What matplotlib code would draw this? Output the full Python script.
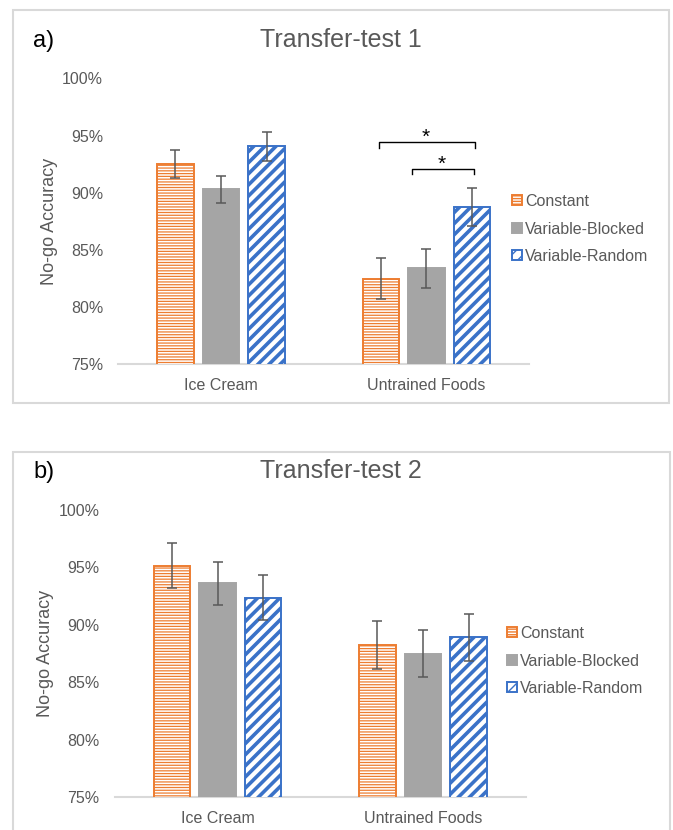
import numpy as np
import matplotlib
matplotlib.use("Agg")
import matplotlib.pyplot as plt
from matplotlib.patches import Rectangle
from matplotlib.ticker import FuncFormatter

plt.rcParams['font.family'] = ['Liberation Sans', 'DejaVu Sans']

categories = ["Ice Cream", "Untrained Foods"]
groups = ["Constant", "Variable-Blocked", "Variable-Random"]

# transfer-test 1 (percent)
t1_means = {
    "Constant": [92.5, 82.5],
    "Variable-Blocked": [90.3, 83.4],
    "Variable-Random": [94.05, 88.75],
}
t1_err = {
    "Constant": [1.25, 1.75],
    "Variable-Blocked": [1.2, 1.7],
    "Variable-Random": [1.25, 1.7],
}

# transfer-test 2 (percent)
t2_means = {
    "Constant": [95.15, 88.25],
    "Variable-Blocked": [93.6, 87.5],
    "Variable-Random": [92.35, 88.9],
}
t2_err = {
    "Constant": [1.97, 2.1],
    "Variable-Blocked": [1.9, 2.05],
    "Variable-Random": [1.95, 2.08],
}

ORANGE = "#ED7D31"
GRAY = "#A5A5A5"
BLUE = "#3A72C8"
TXT = "#595959"
FRAME = "#D9D9D9"

styles = {
    "Constant": dict(facecolor="white", edgecolor=ORANGE, hatch="------", hlw=0.9),
    "Variable-Blocked": dict(facecolor=GRAY, edgecolor=GRAY, hatch=None, hlw=1.0),
    "Variable-Random": dict(facecolor="white", edgecolor=BLUE, hatch="///", hlw=2.6),
}

W, H = 673, 830
fig = plt.figure(figsize=(W / 100, H / 100), dpi=100)


def px_axes(left, right, top, bottom):
    return fig.add_axes([left / W, 1 - bottom / H, (right - left) / W, (bottom - top) / H])


def draw_panel(ax, means, errs, title, letter, title_y, leg_y, leg_x):
    x = np.arange(len(categories))
    width = 0.178
    step = 0.222
    for i, g in enumerate(groups):
        st = styles[g]
        with plt.rc_context({'hatch.linewidth': st['hlw']}):
            bars = ax.bar(x + (i - 1) * step, means[g], width, bottom=0,
                          facecolor=st['facecolor'], edgecolor=st['edgecolor'],
                          hatch=st['hatch'], linewidth=1.4, label=g, zorder=2)
        for b in bars:
            if hasattr(b, "set_hatch_linewidth"):
                b.set_hatch_linewidth(st['hlw'])
        ax.errorbar(x + (i - 1) * step, means[g], yerr=errs[g], fmt="none",
                    ecolor=TXT, elinewidth=1.1, capsize=3.5, capthick=1.1, zorder=3)
    ax.set_ylim(75, 100)
    ax.set_xlim(-0.5, 1.5)
    ax.set_yticks([75, 80, 85, 90, 95, 100])
    ax.yaxis.set_major_formatter(FuncFormatter(lambda v, p: f"{v:.0f}%"))
    ax.set_xticks(x)
    ax.set_xticklabels(categories)
    ax.tick_params(length=0, labelsize=11.5, labelcolor=TXT)
    ax.tick_params(axis='y', pad=11)
    ax.tick_params(axis='x', pad=10)
    for s in ["top", "right", "left"]:
        ax.spines[s].set_visible(False)
    ax.spines["bottom"].set_color(FRAME)
    ax.spines["bottom"].set_linewidth(1.5)
    ax.spines["bottom"].set_zorder(1)
    ax.set_ylabel("No-go Accuracy", fontsize=13, color=TXT, labelpad=3)
    ax.set_facecolor("none")

    fig.text(341 / W, 1 - title_y / H, title, ha="center", va="center",
             fontsize=18, color=TXT)
    fig.text(33 / W, 1 - (title_y + 1) / H, letter, ha="left", va="center",
             fontsize=17, color="black")

    handles, labels = ax.get_legend_handles_labels()
    ax.legend(handles, labels, loc="center left",
              bbox_to_anchor=(leg_x / W, 1 - leg_y / H),
              bbox_transform=fig.transFigure, frameon=False,
              fontsize=11.5, labelcolor=TXT, handlelength=0.6, handleheight=0.6,
              handletextpad=0.2, labelspacing=0.78, borderpad=0, borderaxespad=0)


# panel frames
fig.patches.append(Rectangle((13 / W, 1 - 403 / H), 656 / W, 393 / H,
                             transform=fig.transFigure, fill=False,
                             edgecolor=FRAME, linewidth=1.5))
fig.patches.append(Rectangle((13 / W, 1 - 845 / H), 657 / W, 393 / H,
                             transform=fig.transFigure, fill=False,
                             edgecolor=FRAME, linewidth=1.5))

ax1 = px_axes(118.4, 529.0, 78.3, 364.3)
draw_panel(ax1, t1_means, t1_err, "Transfer-test 1", "a)", 40, 229, 512)

# significance brackets on Untrained Foods
br_outer = (0.771, 1.239, 94.4, 0.5)
br_inner = (0.932, 1.234, 92.1, 0.5)
for (x0, x1, y, tick) in (br_outer, br_inner):
    ax1.plot([x0, x0, x1, x1], [y - tick, y, y, y - tick], color="black",
             linewidth=1.0, zorder=4)
ax1.text(0.995, 94.85, "*", ha="center", va="center", fontsize=15, color="black")
ax1.text(1.075, 92.5, "*", ha="center", va="center", fontsize=15, color="black")

ax2 = px_axes(114.8, 525.8, 510, 797)
draw_panel(ax2, t2_means, t2_err, "Transfer-test 2", "b)", 471, 661, 507)

fig.savefig("out.png", dpi=100, facecolor="white")
